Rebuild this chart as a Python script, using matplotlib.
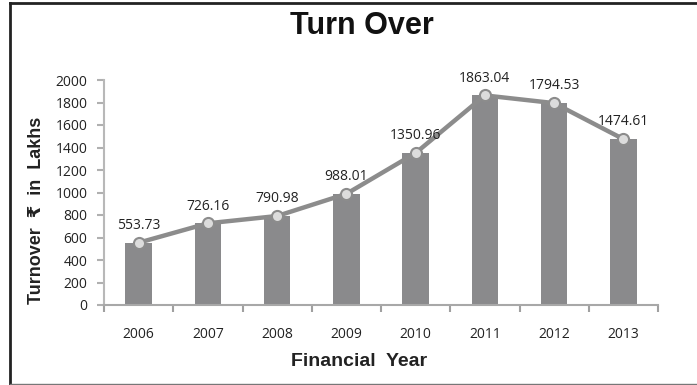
import matplotlib.pyplot as plt
from matplotlib.lines import Line2D

# Data
years = ['2006', '2007', '2008', '2009', '2010', '2011', '2012', '2013']
turnover = [553.73, 726.16, 790.98, 988.01, 1350.96, 1863.04, 1794.53, 1474.61]
yticks = [0, 200, 400, 600, 800, 1000, 1200, 1400, 1600, 1800, 2000]

plt.rcParams['font.family'] = ['Open Sans', 'DejaVu Sans']
bold_fam = ['Liberation Sans', 'DejaVu Sans']

fig = plt.figure(figsize=(6.97, 3.85), dpi=100)
ax = fig.add_axes([104 / 697, 1 - 305 / 385, 554 / 697, 225 / 385])

x = list(range(len(years)))
ax.bar(x, turnover, width=0.38, color='#8a8a8c', zorder=2)
ax.plot(x, turnover, color='#8c8c8c', lw=3.2, marker='o', markersize=8,
        markerfacecolor='#dcdcdc', markeredgecolor='#8c8c8c', markeredgewidth=1.5,
        zorder=3)

for xi, v in zip(x, turnover):
    ax.annotate(f'{v:.2f}', (xi, v), xytext=(0, 7), textcoords='offset points',
                ha='center', va='bottom', fontsize=10, color='#222222')

ax.set_xlim(-0.5, len(years) - 0.5)
ax.set_ylim(0, 2000)
ax.set_yticks(yticks)
ax.set_yticklabels([str(t) for t in yticks], fontsize=10, color='#222222')

# boundary ticks (major) and centered labels (minor)
ax.set_xticks([i - 0.5 for i in range(len(years) + 1)])
ax.set_xticklabels([])
ax.set_xticks(x, minor=True)
ax.set_xticklabels(years, minor=True, fontsize=10, color='#222222')
ax.tick_params(axis='x', which='major', length=5, color='#a0a0a0', width=1.5)
ax.tick_params(axis='x', which='minor', length=0, pad=16)
ax.tick_params(axis='y', length=5, color='#b0b0b0', width=1.5, pad=7)

for s in ['top', 'right']:
    ax.spines[s].set_visible(False)
ax.spines['left'].set_color('#b8b8b8')
ax.spines['left'].set_linewidth(1.5)
ax.spines['bottom'].set_color('#a8a8a8')
ax.spines['bottom'].set_linewidth(1.5)

fig.text(37 / 697, 1 - 210 / 385, 'Turnover  ₹  in  Lakhs', fontsize=13, fontweight='bold',
         family=bold_fam, rotation=90, ha='center', va='center', color='#222222')
fig.text(359 / 697, 1 - 362 / 385, 'Financial  Year', fontsize=14, fontweight='bold',
         family=bold_fam, ha='center', va='center', color='#222222')
fig.text(362 / 697, 1 - 26 / 385, 'Turn Over', fontsize=22, fontweight='bold',
         family=bold_fam, ha='center', va='center', color='#111111')

# frame around the chart
fig.add_artist(Line2D([10 / 697, 10 / 697], [1 - 3 / 385, 1 - 384 / 385],
                      transform=fig.transFigure, color='#222222', lw=2))
fig.add_artist(Line2D([10 / 697, 1], [1 - 3 / 385, 1 - 3 / 385],
                      transform=fig.transFigure, color='#222222', lw=2))
fig.add_artist(Line2D([10 / 697, 1], [1 - 384 / 385, 1 - 384 / 385],
                      transform=fig.transFigure, color='#777777', lw=1))

fig.savefig('out.png', dpi=100)
